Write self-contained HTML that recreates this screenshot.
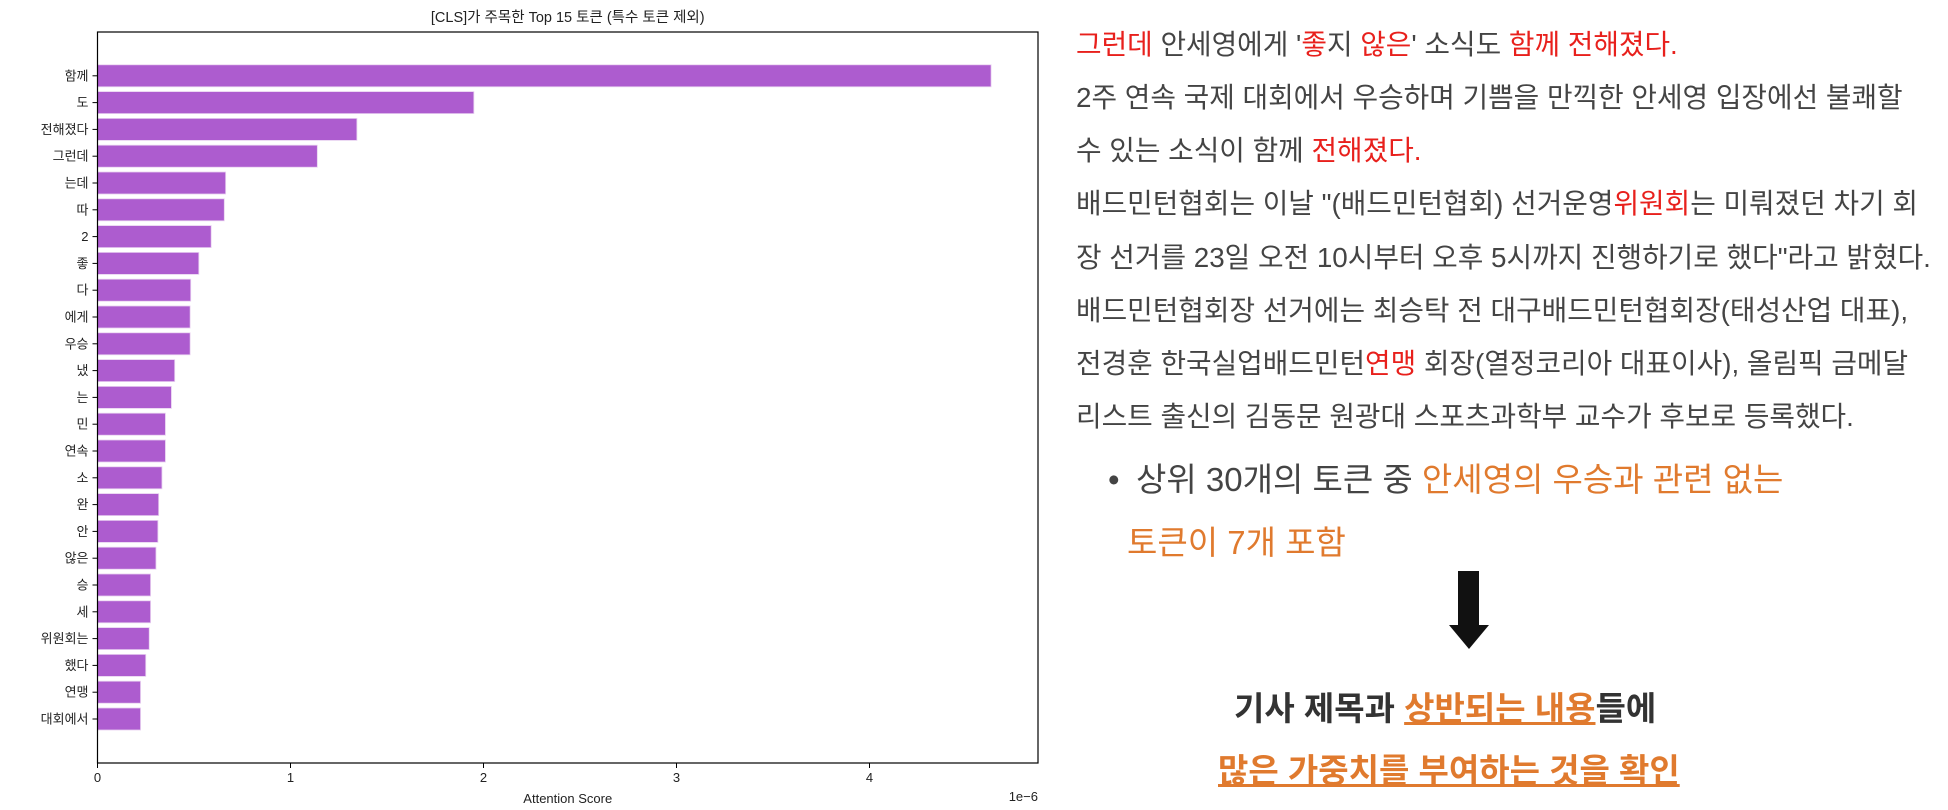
<!DOCTYPE html>
<html><head><meta charset="utf-8">
<style>
body{margin:0;width:1948px;height:810px;background:#fff;overflow:hidden;position:relative;font-family:"Liberation Sans","Noto Sans CJK KR",sans-serif;}
.t{position:absolute;white-space:nowrap;color:#444;font-size:27.8px;line-height:1;}
.r{color:#e8201c}.o{color:#e07a2e}
</style></head><body>
<svg id="chart" width="1050" height="810" style="position:absolute;left:0;top:0" font-family="Liberation Sans, Noto Sans CJK KR, sans-serif"></svg>

<div class="t" style="left:1076px;top:31px"><span class="r">그런데</span> 안세영에게 '<span class="r">좋</span>지 <span class="r">않은</span>' 소식도 <span class="r">함께 전해졌다.</span></div>
<div class="t" style="left:1076px;top:84px">2주 연속 국제 대회에서 우승하며 기쁨을 만끽한 안세영 입장에선 불쾌할</div>
<div class="t" style="left:1076px;top:137px">수 있는 소식이 함께 <span class="r">전해졌다.</span></div>
<div class="t" style="left:1076px;top:190px">배드민턴협회는 이날 "(배드민턴협회) 선거운영<span class="r">위원회</span>는 미뤄졌던 차기 회</div>
<div class="t" style="left:1076px;top:244px">장 선거를 23일 오전 10시부터 오후 5시까지 진행하기로 했다"라고 밝혔다.</div>
<div class="t" style="left:1076px;top:297px">배드민턴협회장 선거에는 최승탁 전 대구배드민턴협회장(태성산업 대표),</div>
<div class="t" style="left:1076px;top:350px">전경훈 한국실업배드민턴<span class="r">연맹</span> 회장(열정코리아 대표이사), 올림픽 금메달</div>
<div class="t" style="left:1076px;top:403px">리스트 출신의 김동문 원광대 스포츠과학부 교수가 후보로 등록했다.</div>

<div class="t" style="left:1108px;top:463px;font-size:33px">•</div>
<div class="t" style="left:1136px;top:463px;font-size:33px">상위 30개의 토큰 중 <span class="o">안세영의 우승과 관련 없는</span></div>
<div class="t o" style="left:1127px;top:526px;font-size:33px">토큰이 7개 포함</div>

<svg style="position:absolute;left:1448px;top:569px" width="42" height="82">
<rect x="10" y="2" width="21" height="56" fill="#111"/>
<polygon points="1,56 41,56 21,80" fill="#111"/>
</svg>

<div class="t" style="left:1234px;top:692px;font-size:33px;font-weight:bold;color:#333">기사 제목과 <span class="o" style="text-decoration:underline">상반되는 내용</span>들에</div>
<div class="t o" style="left:1218px;top:754px;font-size:33px;font-weight:bold;text-decoration:underline">많은 가중치를 부여하는 것을 확인</div>

<script>
const categories=["함께","도","전해졌다","그런데","는데","따","2","좋","다","에게","우승","냈","는","민","연속","소","완","안","않은","승","세","위원회는","했다","연맹","대회에서"];
const values=[4.63,1.95,1.344,1.139,0.664,0.657,0.589,0.525,0.483,0.48,0.48,0.40,0.383,0.352,0.352,0.334,0.317,0.313,0.303,0.275,0.275,0.268,0.25,0.223,0.223];
const xTicks=[0,1,2,3,4];
const NS="http://www.w3.org/2000/svg";
const svg=document.getElementById('chart');
const L=97.5,R=1038,T=32,B=763;
const step=26.8, y0=75.8;
const xs=v=>L+v*193.0;
const ys=i=>y0+i*step;
function mk(tag,attrs){const e=document.createElementNS(NS,tag);for(const k in attrs)e.setAttribute(k,attrs[k]);svg.appendChild(e);return e;}
categories.forEach((c,i)=>{
  const b=mk('rect',{x:xs(0),y:ys(i)-11,width:xs(values[i])-xs(0),height:22,fill:'#ad5ccf',stroke:'#e8d0f0','stroke-width':0.8});
  
  
  const tk=mk('line',{x1:L-5,x2:L,y1:ys(i),y2:ys(i),stroke:'#000','stroke-width':1});
  
  
  const t=mk('text',{x:L-9,y:ys(i)+4.5,'text-anchor':'end','font-size':13,fill:'#222'});
  t.textContent=c;
  
  
});
xTicks.forEach(v=>{
  const tk=mk('line',{x1:xs(v),x2:xs(v),y1:B,y2:B+5,stroke:'#000','stroke-width':1});
  
  
  const t=mk('text',{x:xs(v),y:B+19,'text-anchor':'middle','font-size':13,fill:'#222'});
  t.textContent=v;
  
  
});
const fr=mk('rect',{x:L,y:T,width:R-L,height:B-T,fill:'none',stroke:'#000','stroke-width':1.2});


const ti=mk('text',{x:(L+R)/2,y:22,'text-anchor':'middle','font-size':14.5,fill:'#222'});
ti.textContent='[CLS]가 주목한 Top 15 토큰 (특수 토큰 제외)';


const xl=mk('text',{x:(L+R)/2,y:803,'text-anchor':'middle','font-size':13,fill:'#222'});
xl.textContent='Attention Score';


const ex=mk('text',{x:R,y:801,'text-anchor':'end','font-size':13,fill:'#222'});
ex.textContent='1e−6';


</script>
</body></html>
